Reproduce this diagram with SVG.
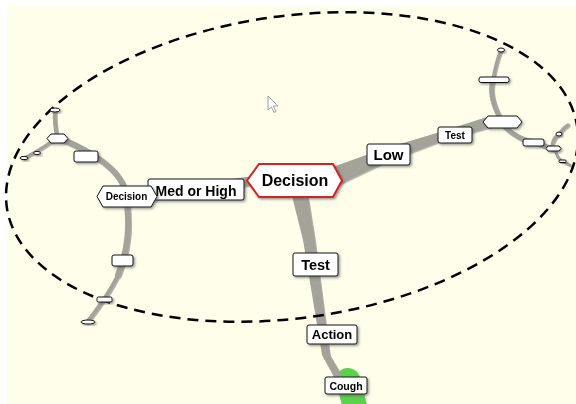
<svg xmlns="http://www.w3.org/2000/svg" width="576" height="404" viewBox="0 0 576 404">
<defs>
<style>
.lk{fill:none;stroke:#a3a39a;stroke-linecap:round;stroke-linejoin:round}
.lf{fill:#a3a39a}
.bx{fill:#fff;stroke:#111;stroke-width:1}
.t{font-family:"Liberation Sans",Arial,sans-serif;font-weight:bold;fill:#000;text-anchor:middle}
</style>
<filter id="sh" x="-30%" y="-30%" width="160%" height="180%">
<feDropShadow dx="1.5" dy="1.5" stdDeviation="0.8" flood-color="#555" flood-opacity="0.6"/>
</filter>
<filter id="lsh" x="-10%" y="-10%" width="120%" height="120%">
<feDropShadow dx="1" dy="1.2" stdDeviation="0.6" flood-color="#666" flood-opacity="0.5"/>
</filter>
</defs>
<rect width="576" height="404" fill="#ffffff"/>
<rect x="7" y="5" width="569" height="399" fill="#fefeea"/>

<g id="connectors" filter="url(#lsh)">
<path d="M348 380 L356 412" stroke="#5ad24b" stroke-width="24" stroke-linecap="round" fill="none"/>
<polygon class="lf" points="292,196 303,240 322,355 339,386 347,384 330,355 315,240 308,196"/>
<polygon class="lf" points="330,168 380,150 440,132 490,116 492,127 442,141 384,163 338,185"/>
<path class="lk" d="M250 181 L155 195" stroke-width="9"/>
<path class="lk" d="M58 138 C80 146 118 165 125 190" stroke-width="6"/>
<path class="lk" d="M125 190 C131 225 128 250 118 275" stroke-width="6"/>
<path class="lk" d="M118 275 C110 292 98 308 88 321" stroke-width="4"/>
<path class="lk" d="M57 136 Q54 122 55 110" stroke-width="4"/>
<path class="lk" d="M52 141 Q40 150 24 158" stroke-width="3"/>
<path class="lk" d="M500 118 Q488 95 493 80" stroke-width="5"/>
<path class="lk" d="M493 80 Q496 62 501 50" stroke-width="3.5"/>
<path class="lk" d="M503 125 Q518 140 534 142 L553 149" stroke-width="5"/>
<path class="lk" d="M552 148 Q552 139 559 134 Q563 128 568 125" stroke-width="3.5"/>
<path class="lk" d="M555 150 Q557 158 562 161 L570 165" stroke-width="3"/>
</g>

<ellipse cx="292" cy="167" rx="288" ry="151" transform="rotate(-8 292 167)" fill="none" stroke="#000" stroke-width="2.5" stroke-dasharray="11 7"/>

<g id="n_oval1" filter="url(#sh)"><ellipse class="bx" cx="55" cy="110" rx="5" ry="2"/></g>
<g id="n_oval2" filter="url(#sh)"><ellipse class="bx" cx="24" cy="158" rx="4" ry="1.6"/></g>
<g id="n_oval3" filter="url(#sh)"><ellipse class="bx" cx="37" cy="153" rx="3.5" ry="1.6"/></g>
<g id="n_hexL" filter="url(#sh)"><polygon class="bx" points="47,138.5 51,134 64,134 68,138.5 64,143 51,143"/></g>
<g id="n_boxL1" filter="url(#sh)"><rect class="bx" x="74" y="151" width="24" height="11" rx="2"/></g>
<g id="n_boxL2" filter="url(#sh)"><rect class="bx" x="112" y="255" width="21" height="11" rx="2"/></g>
<g id="n_boxL3" filter="url(#sh)"><rect class="bx" x="97" y="297" width="15" height="5" rx="1.5"/></g>
<g id="n_oval4" filter="url(#sh)"><ellipse class="bx" cx="88" cy="322" rx="7" ry="2"/></g>

<g id="n_med" filter="url(#sh)"><rect class="bx" x="148" y="179" width="96" height="21" rx="2"/>
<text class="t" x="196" y="196" font-size="14">Med or High</text></g>
<g id="n_decL" filter="url(#sh)"><polygon class="bx" points="97,196.5 103,186 151,186 157,196.5 151,207 103,207"/>
<text class="t" x="126.5" y="200" font-size="10">Decision</text></g>

<g id="n_decision" filter="url(#sh)"><polygon points="247,180.5 259,164 333,164 342,180.5 333,197 259,197" fill="#fff" stroke="#d42020" stroke-width="2"/>
<text class="t" x="295" y="186" font-size="16">Decision</text></g>

<g id="n_low" filter="url(#sh)"><rect class="bx" x="367" y="144" width="43" height="21" rx="2"/>
<text class="t" x="388.5" y="160" font-size="15">Low</text></g>
<g id="n_test1" filter="url(#sh)"><rect class="bx" x="438" y="127" width="34" height="16" rx="2"/>
<text class="t" x="455" y="139" font-size="10">Test</text></g>
<g id="n_hexR" filter="url(#sh)"><polygon class="bx" points="483,122 488,116 517,116 522,122 517,128 488,128"/></g>
<g id="n_boxR1" filter="url(#sh)"><rect class="bx" x="479" y="77" width="30" height="5.5" rx="2"/></g>
<g id="n_oval5" filter="url(#sh)"><ellipse class="bx" cx="501" cy="50" rx="3.5" ry="2"/></g>
<g id="n_boxR2" filter="url(#sh)"><rect class="bx" x="523" y="139" width="21" height="7" rx="2"/></g>
<g id="n_hexR2" filter="url(#sh)"><polygon class="bx" points="546,148.5 548,146 559,146 561,148.5 559,151 548,151"/></g>
<g id="n_oval6" filter="url(#sh)"><ellipse class="bx" cx="559" cy="134" rx="3" ry="2"/></g>
<g id="n_boxR3" filter="url(#sh)"><rect class="bx" x="559" y="160" width="7" height="2.5" rx="1"/></g>

<g id="n_test2" filter="url(#sh)"><rect class="bx" x="293" y="253" width="45" height="23" rx="2"/>
<text class="t" x="315.5" y="270" font-size="14.5">Test</text></g>
<g id="n_action" filter="url(#sh)"><rect class="bx" x="307" y="325" width="50" height="19" rx="2"/>
<text class="t" x="332" y="339" font-size="13">Action</text></g>
<g id="n_cough" filter="url(#sh)"><rect class="bx" x="325" y="377" width="42" height="17" rx="2"/>
<text class="t" x="346" y="389.5" font-size="10.5">Cough</text></g>

<g id="cursor"><polygon points="268,96 268,110 271.5,107 274,112.5 276,111.5 273.5,106 278,106" fill="#fff" stroke="#888" stroke-width="0.8"/></g>
</svg>
